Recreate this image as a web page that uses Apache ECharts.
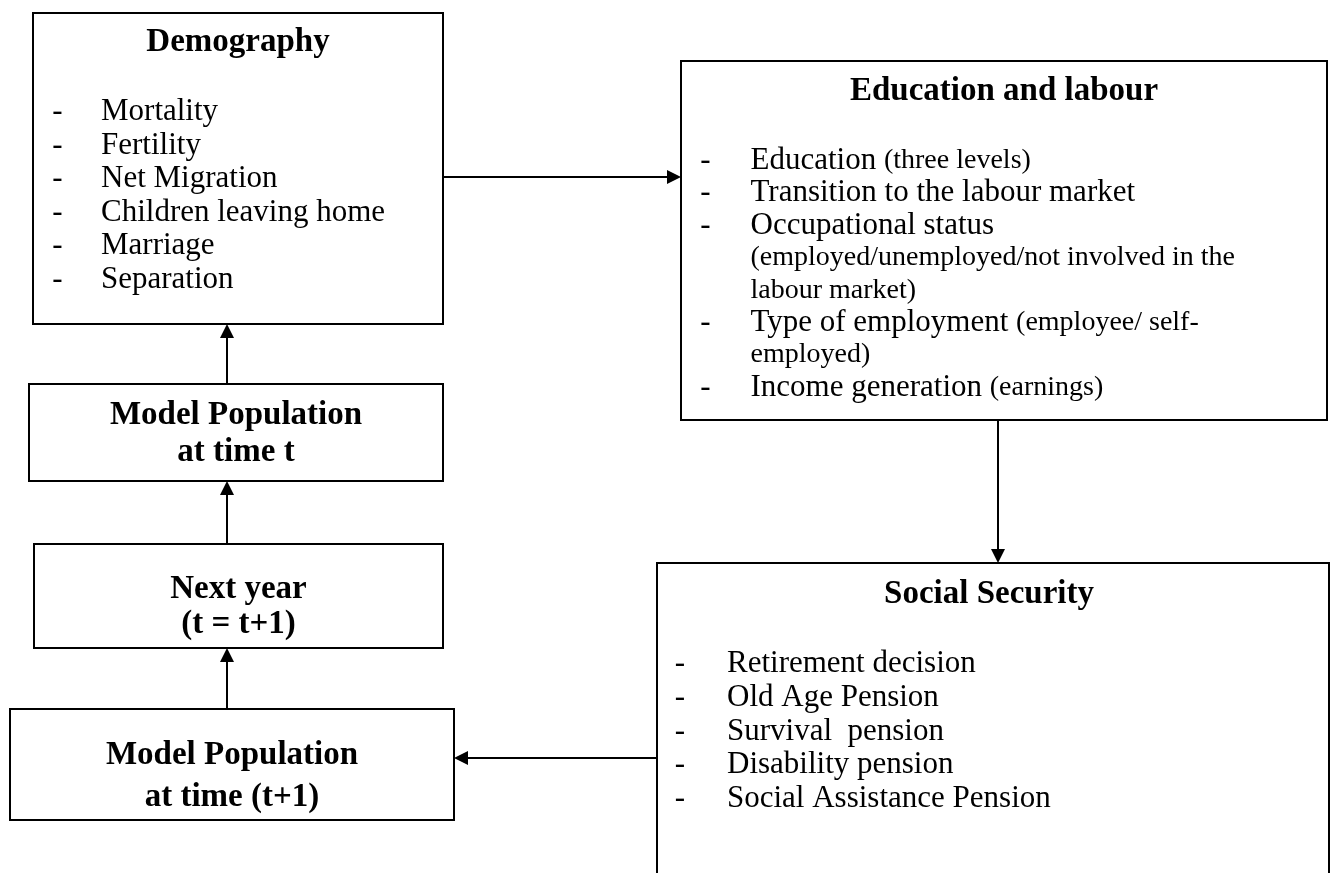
<!DOCTYPE html>
<html>
<head>
<meta charset="utf-8">
<script src="https://cdn.jsdelivr.net/npm/echarts@6/dist/echarts.min.js"></script>
<style>
html,body{margin:0;padding:0;background:#fff;}
#main{width:1332px;height:873px;}
</style>
</head>
<body>
<div id="main"></div>
<script>
// ---------------- data ----------------
const boxIds = ['demography', 'education', 'social', 'popT', 'nextYear', 'popT1'];
const boxTitles = [
  'Demography',
  'Education and labour',
  'Social Security',
  'Model Population\nat time t',
  'Next year\n(t = t+1)',
  'Model Population\nat time (t+1)'
];
const demographyItems = ['Mortality', 'Fertility', 'Net Migration', 'Children leaving home', 'Marriage', 'Separation'];
// [bullet, main text, smaller note]
const educationLines = [
  ['-', 'Education ', '(three levels)'],
  ['-', 'Transition to the labour market', ''],
  ['-', 'Occupational status', ''],
  ['', '', '(employed/unemployed/not involved in the'],
  ['', '', 'labour market)'],
  ['-', 'Type of employment ', '(employee/ self-'],
  ['', '', 'employed)'],
  ['-', 'Income generation ', '(earnings)']
];
const socialItems = ['Retirement decision', 'Old Age Pension', 'Survival  pension', 'Disability pension', 'Social Assistance Pension'];
const flowFrom = ['demography', 'education', 'social', 'popT1', 'nextYear', 'popT'];
const flowTo   = ['education', 'social', 'popT1', 'nextYear', 'popT', 'demography'];

// ---------------- layout (positions / styles) ----------------
const W = 1332, H = 873;
const FONT = '"Liberation Serif", "Times New Roman", serif';
const layout = {
  demography: { x0: 33, y0: 13, x1: 443, y1: 324, titleY: [42.5], list: { dashX: 57.5, textX: 101, y: 112, step: 33.5 } },
  education:  { x0: 681, y0: 61, x1: 1327, y1: 420, titleY: [91], list: { dashX: 705.5, textX: 750.5, y: 160.7, step: 32.4 } },
  social:     { x0: 657, y0: 563, x1: 1329, y1: 910, titleY: [594], titleDx: -4, list: { dashX: 680, textX: 727, y: 664, step: 33.7 } },
  popT:       { x0: 29, y0: 384, x1: 443, y1: 481, titleY: [415, 452] },
  nextYear:   { x0: 34, y0: 544, x1: 443, y1: 648, titleY: [589, 624] },
  popT1:      { x0: 10, y0: 709, x1: 454, y1: 820, titleY: [755, 797] }
};
const flowLane = [177, 998, 758, 227, 227, 227];
const boxLists = { demography: demographyItems, education: educationLines, social: socialItems };
const HEAD_LEN = 14, HEAD_HALF = 7, LINE_W = 2;

function normLine(it) { return typeof it === 'string' ? ['-', it, ''] : it; }

// box data for the custom series (x0, y0, x1, y1 in axis units)
const boxData = boxIds.map(id => { const b = layout[id]; return [b.x0, b.y0, b.x1, b.y1]; });

// flow data: start/end points derived from the boxes' edges
const flowData = flowFrom.map((f, i) => {
  const s = layout[f], t = layout[flowTo[i]], lane = flowLane[i];
  if (t.x0 > s.x1) return [s.x1, lane, t.x0, lane];          // right
  if (t.x1 < s.x0) return [s.x0, lane, t.x1, lane];          // left
  if (t.y0 > s.y1) return [lane, s.y1, lane, t.y0];          // down
  return [lane, s.y0, lane, t.y1];                           // up
});

const chart = echarts.init(document.getElementById('main'), null, { renderer: 'canvas' });

function renderBox(params, api) {
  const id = boxIds[params.dataIndex];
  const b = layout[id];
  const p0 = api.coord([api.value(0), api.value(1)]);
  const p1 = api.coord([api.value(2), api.value(3)]);
  const x0 = Math.min(p0[0], p1[0]), y0 = Math.min(p0[1], p1[1]);
  const w = Math.abs(p1[0] - p0[0]), h = Math.abs(p1[1] - p0[1]);
  const children = [{
    type: 'rect',
    shape: { x: x0, y: y0, width: w, height: h },
    style: { fill: '#fff', stroke: '#000', lineWidth: LINE_W }
  }];
  const cx = (p0[0] + p1[0]) / 2 + (b.titleDx || 0);
  boxTitles[params.dataIndex].split('\n').forEach((line, k) => {
    const py = api.coord([0, b.titleY[k]])[1];
    children.push({
      type: 'text',
      style: { text: line, x: cx, y: py, fill: '#000', font: 'bold 33px ' + FONT, align: 'center', verticalAlign: 'middle' }
    });
  });
  const items = boxLists[id];
  if (items) {
    const L = b.list;
    items.map(normLine).forEach((ln, k) => {
      const yy = api.coord([0, L.y + k * L.step])[1];
      if (ln[0]) {
        children.push({
          type: 'text',
          style: { text: ln[0], x: api.coord([L.dashX, 0])[0], y: yy, fill: '#000', font: '31px ' + FONT, align: 'center', verticalAlign: 'middle' }
        });
      }
      let txt = '';
      if (ln[1]) txt += '{m|' + ln[1] + '}';
      if (ln[2]) txt += '{s|' + ln[2] + '}';
      children.push({
        type: 'text',
        style: {
          text: txt, x: api.coord([L.textX, 0])[0], y: yy, align: 'left', verticalAlign: 'middle',
          rich: {
            m: { font: '31px ' + FONT, fill: '#000' },
            s: { font: '28px ' + FONT, fill: '#000' }
          }
        }
      });
    });
  }
  return { type: 'group', children: children };
}

function renderFlow(params, api) {
  const a = api.coord([api.value(0), api.value(1)]);
  const b = api.coord([api.value(2), api.value(3)]);
  const dx = b[0] - a[0], dy = b[1] - a[1];
  const len = Math.sqrt(dx * dx + dy * dy);
  const ux = dx / len, uy = dy / len, px = -uy, py = ux;
  const bx = b[0] - ux * HEAD_LEN, by = b[1] - uy * HEAD_LEN;
  return {
    type: 'group',
    children: [
      { type: 'line', shape: { x1: a[0], y1: a[1], x2: bx + ux, y2: by + uy }, style: { stroke: '#000', lineWidth: LINE_W } },
      { type: 'polygon', shape: { points: [[b[0], b[1]], [bx + px * HEAD_HALF, by + py * HEAD_HALF], [bx - px * HEAD_HALF, by - py * HEAD_HALF]] }, style: { fill: '#000' } }
    ]
  };
}

chart.setOption({
  animation: false,
  backgroundColor: '#fff',
  grid: { left: 0, right: 0, top: 0, bottom: 0 },
  xAxis: { type: 'value', min: 0, max: W, show: false },
  yAxis: { type: 'value', min: 0, max: H, inverse: true, show: false },
  series: [
    {
      type: 'custom', name: 'flows', clip: false, silent: true,
      encode: { x: [0, 2], y: [1, 3] },
      renderItem: renderFlow,
      data: flowData,
      z: 1
    },
    {
      type: 'custom', name: 'boxes', clip: false, silent: true,
      encode: { x: [0, 2], y: [1, 3] },
      renderItem: renderBox,
      data: boxData,
      z: 2
    }
  ]
});
</script>
</body>
</html>
